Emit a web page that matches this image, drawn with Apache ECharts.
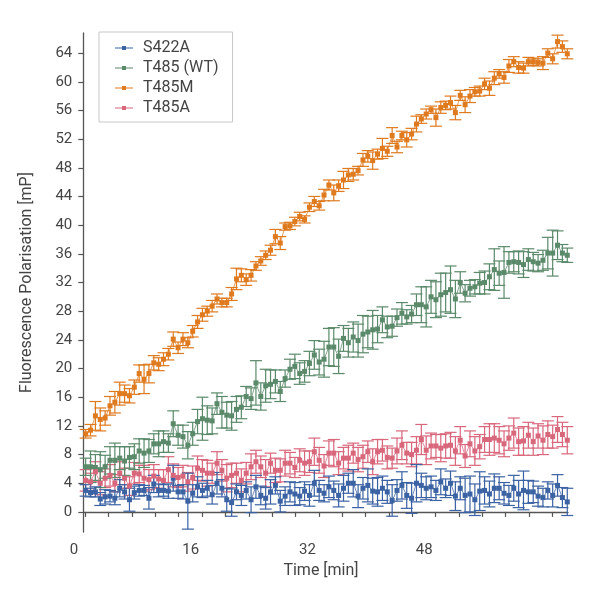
<!DOCTYPE html>
<html><head><meta charset="utf-8">
<script src="https://cdn.jsdelivr.net/npm/echarts@6/dist/echarts.min.js"></script>
<style>html,body{margin:0;padding:0;background:#fff}#c{width:600px;height:612px}</style>
</head><body><div id="c"></div>
<script>
const seriesNames = ['S422A', 'T485 (WT)', 'T485M', 'T485A'];
const seriesColors = ['#3b62a3', '#5a8a6a', '#df7a1f', '#d9677c'];
const xTickLabels = [0, 16, 32, 48];
const yTickLabels = [0, 4, 8, 12, 16, 20, 24, 28, 32, 36, 40, 44, 48, 52, 56, 60, 64];
const xMinorTicks = [1.55, 4.75, 7.95, 11.15, 14.35, 17.55, 20.75, 23.95, 27.15, 30.35, 33.55, 36.75, 39.95, 43.15, 46.35, 49.55, 52.75, 55.95, 59.15, 62.35, 65.55];
const firstSampleMin = 1.6;
const sampleStepMin = 2 / 3; // 40 s between readings
const nSamples = 100;

const s422aValues = [3.0,2.7,2.8,1.8,2.1,2.2,1.9,3.3,2.8,1.7,2.7,3.0,3.0,1.9,3.9,3.0,3.0,2.9,4.7,2.8,2.8,1.5,2.6,3.5,3.0,3.3,2.4,4.0,3.3,1.7,1.3,2.8,2.3,3.0,1.7,3.5,2.3,1.9,2.8,3.7,1.5,2.2,2.8,2.5,2.2,2.9,2.3,4.0,
3.0,2.6,3.5,3.0,2.3,3.3,4.0,4.0,2.2,3.3,3.7,2.9,2.8,3.3,2.8,1.6,3.0,3.7,2.3,1.9,4.0,3.7,3.3,3.5,3.0,4.2,3.3,4.0,2.2,3.3,2.3,2.5,1.7,2.9,3.0,2.5,3.3,3.3,2.6,2.3,3.3,2.5,3.0,2.8,2.8,2.2,2.0,3.0,2.3,3.7,2.0,1.4];
const s422aErrors = [0.8,0.6,0.7,0.9,1.0,0.8,0.9,1.2,1.0,1.6,0.9,0.8,0.7,1.5,1.2,0.9,0.8,1.0,1.8,0.9,1.0,3.9,1.2,1.4,1.0,1.1,1.3,1.5,1.2,1.6,1.9,1.1,1.4,1.2,1.8,1.6,1.3,1.5,1.7,1.2,1.5,1.3,1.4,1.6,1.2,1.3,1.5,1.8,1.4,1.2,
1.5,1.3,1.6,1.8,1.4,1.9,1.6,1.5,2.3,1.8,2.0,1.7,1.6,2.2,1.5,1.9,1.8,2.1,2.6,1.7,1.6,1.5,1.4,1.8,1.3,1.7,2.0,1.6,2.4,2.5,2.2,2.7,1.9,1.8,2.0,1.6,1.5,1.4,1.8,1.9,2.7,1.6,1.5,1.4,1.3,1.2,1.6,1.5,1.4,1.9];

const t485wtValues = [6.3,6.3,6.2,5.9,6.3,7.2,7.2,7.5,7.1,7.6,7.7,8.5,8.2,8.5,9.5,9.5,9.8,9.6,12.3,10.7,10.5,9.3,10.9,12.6,13.0,12.8,12.7,15.1,13.9,13.5,13.4,14.3,14.6,16.1,15.8,18.0,16.1,17.6,17.8,18.2,16.8,18.6,19.9,20.3,19.3,19.6,20.7,21.9,20.9,21.3,
23.0,23.0,21.7,24.2,23.6,24.4,23.9,24.8,25.1,25.4,25.5,26.8,25.8,25.9,27.1,27.7,27.2,27.6,28.9,28.9,28.6,30.0,29.6,30.3,30.6,31.0,29.7,32.0,30.5,31.2,31.4,31.9,32.0,32.8,33.8,33.3,33.4,34.8,34.9,34.8,34.5,35.2,34.9,34.7,35.1,36.1,36.1,37.2,36.1,35.8];
const t485wtErrors = [1.2,2.2,1.8,2.5,1.6,1.9,2.4,1.6,2.0,1.5,1.8,1.7,2.0,1.6,1.4,1.8,1.5,1.3,1.8,1.4,1.6,1.9,1.6,1.7,3.0,2.0,1.8,1.5,2.2,1.8,2.0,1.8,1.6,1.4,1.5,3.1,1.9,2.3,2.0,1.6,1.4,1.2,1.4,1.7,1.5,1.5,1.7,2.0,1.8,2.5,
2.6,2.7,2.4,1.8,2.0,2.1,2.3,2.6,2.2,2.7,1.9,1.8,1.5,1.4,1.2,1.5,1.0,1.2,1.5,2.5,2.8,2.3,2.5,3.0,2.7,3.3,2.6,1.5,1.2,1.1,1.0,1.5,1.6,1.8,2.9,1.7,3.6,1.5,1.4,1.6,1.8,1.5,1.3,1.2,1.4,2.2,3.2,2.0,1.2,1.0];

const t485mValues = [10.9,11.4,13.4,12.9,13.1,14.8,15.3,16.5,16.5,16.2,17.4,19.3,18.5,19.3,20.8,20.6,21.3,22.0,24.1,22.9,24.1,23.6,25.2,26.5,27.5,28.0,28.7,29.7,29.2,29.2,30.4,32.5,33.0,32.4,33.0,34.3,35.0,35.8,36.5,38.4,37.5,39.8,39.9,40.5,41.2,40.8,42.5,43.3,42.7,
44.2,45.6,44.5,45.5,46.3,47.0,47.1,47.6,49.1,49.6,49.0,49.9,50.7,50.3,52.5,50.9,52.5,51.9,52.7,54.1,54.8,55.5,56.1,55.0,56.4,56.7,57.1,55.7,58.1,56.8,58.0,58.6,58.7,59.7,59.1,60.5,61.1,60.6,62.2,62.8,62.0,61.9,62.8,62.8,62.7,62.6,64.0,63.2,65.6,64.9,63.9];
const t485mErrors = [0.6,0.8,2.0,1.6,1.0,1.3,1.5,1.6,1.2,1.0,1.0,1.2,2.0,1.3,1.0,0.9,0.9,0.8,1.0,0.8,0.9,0.7,0.8,0.9,0.9,0.7,0.8,0.7,0.6,0.6,0.9,1.5,0.9,0.8,0.8,0.6,0.6,0.6,0.7,1.0,0.9,0.5,0.5,0.6,0.6,0.5,0.6,0.7,0.6,
0.8,0.7,1.1,0.8,1.2,0.9,0.8,0.6,0.9,0.8,1.2,0.7,1.4,0.7,1.1,0.8,0.6,1.0,0.8,1.1,0.6,0.7,0.5,1.2,0.8,0.6,0.9,1.0,0.7,1.1,0.9,0.6,0.7,0.8,1.0,0.9,0.6,0.8,0.9,0.7,0.8,0.7,0.6,0.5,0.5,0.9,0.6,0.7,0.9,0.8,0.7];

const t485aValues = [4.4,4.2,5.6,4.0,4.7,5.1,4.0,5.4,4.7,3.6,5.4,5.3,4.7,4.5,5.0,4.6,4.4,5.9,5.1,4.8,5.0,4.2,4.8,6.1,5.8,5.4,5.4,6.8,5.8,4.7,5.1,5.4,4.4,5.4,6.3,7.0,6.3,5.4,6.8,5.8,5.8,6.8,6.8,6.2,7.2,6.8,7.0,8.4,
7.2,6.4,8.2,8.2,6.8,7.5,7.5,8.2,7.3,7.7,8.4,7.0,8.4,8.6,7.6,7.5,8.5,9.3,8.2,8.0,8.6,10.1,8.6,9.2,9.2,8.9,9.2,9.3,8.5,10.0,7.8,9.5,8.5,9.1,10.1,10.1,10.3,10.0,9.5,10.3,11.0,9.8,9.9,10.7,9.8,10.6,10.0,10.8,10.5,11.5,10.8,10.0];
const t485aErrors = [1.5,1.2,1.4,1.6,1.3,1.5,1.2,1.6,1.4,1.3,1.5,1.2,1.8,1.4,1.6,1.3,1.5,1.8,1.6,1.4,1.5,1.3,1.6,1.7,1.5,1.8,1.4,1.6,1.5,1.9,1.7,1.4,1.6,1.5,1.8,1.6,1.5,1.9,1.4,1.7,1.6,1.8,1.5,1.4,1.6,1.7,1.5,1.9,1.8,1.6,
1.7,1.9,1.6,1.5,1.8,1.4,1.7,1.6,1.5,1.8,1.7,1.5,1.6,1.4,1.8,2.0,1.5,1.7,1.9,2.1,2.0,1.8,1.6,1.9,1.7,1.8,2.0,1.9,1.6,1.8,2.0,1.7,1.8,2.2,2.0,1.9,1.8,1.7,2.1,1.9,2.0,1.8,1.9,1.7,2.0,1.9,1.6,1.8,1.7,1.9];

const allValues = [s422aValues, t485wtValues, t485mValues, t485aValues];
const allErrors = [s422aErrors, t485wtErrors, t485mErrors, t485aErrors];

const times = [];
for (let i = 0; i < nSamples; i++) times.push(firstSampleMin + i * sampleStepMin);

const FONT = 'Roboto, "Noto Sans", sans-serif';
const TXT = '#444';
const AX = '#555';
const xMax = 67.7, xStartB = 1.275, yMin = -2.8, yMax = 66.8;
const legendIcon = 'path://M0,1.5h18v1h-18z M7,0h4v4h-4z';

function errRender(color) {
  return function (params, api) {
    const x = api.value(0), y = api.value(1), e = api.value(2);
    const top = api.coord([x, y + e]);
    const bot = api.coord([x, y - e]);
    const hw = 6;
    const st = { stroke: color, lineWidth: 1.2 };
    return {
      type: 'group',
      children: [
        { type: 'line', shape: { x1: top[0], y1: top[1], x2: bot[0], y2: bot[1] }, style: st },
        { type: 'line', shape: { x1: top[0] - hw, y1: top[1], x2: top[0] + hw, y2: top[1] }, style: st },
        { type: 'line', shape: { x1: bot[0] - hw, y1: bot[1], x2: bot[0] + hw, y2: bot[1] }, style: st }
      ]
    };
  };
}

const series = [];
const drawOrder = [3, 2, 1, 0];
drawOrder.forEach(function (k) {
  series.push({
    name: seriesNames[k] + ' err',
    type: 'custom',
    xAxisIndex: 1, yAxisIndex: 1,
    renderItem: errRender(seriesColors[k]),
    encode: { x: 0, y: 1 },
    data: times.map((t, i) => [t, allValues[k][i], allErrors[k][i]]),
    z: 2,
    silent: true
  });
});
[0, 1, 2, 3].forEach(function (k) {
  series.push({
    name: seriesNames[k],
    type: 'line',
    xAxisIndex: 1, yAxisIndex: 1,
    data: times.map((t, i) => [t, allValues[k][i]]),
    symbol: 'rect',
    symbolSize: 5,
    showSymbol: true,
    clip: false,
    itemStyle: { color: seriesColors[k] },
    lineStyle: { color: seriesColors[k], width: 1, opacity: 0.75 },
    z: 3 + (3 - drawOrder.indexOf(k))
  });
});

const chart = echarts.init(document.getElementById('c'), null, { renderer: 'canvas' });
chart.setOption({
  animation: false,
  backgroundColor: '#fff',
  textStyle: { fontFamily: FONT },
  grid: [
    { left: 74, right: 32, top: 33, bottom: 80, outerBoundsMode: 'none' },
    { left: 83.3, right: 32, top: 33, bottom: 80, outerBoundsMode: 'none' }
  ],
  legend: {
    orient: 'vertical',
    left: 99, top: 32,
    padding: [8, 14, 6, 16],
    itemWidth: 18, itemHeight: 4, itemGap: 4,
    borderColor: '#c8c8c8', borderWidth: 1,
    backgroundColor: '#fff',
    textStyle: { fontSize: 16, lineHeight: 16, color: TXT, fontFamily: FONT, padding: [0, 0, 0, 5] },
    data: seriesNames.map((n) => ({ name: n, icon: legendIcon }))
  },
  xAxis: [
    {
      gridIndex: 0, type: 'value', min: 0, max: xMax,
      axisLine: { show: false }, axisTick: { show: false }, splitLine: { show: false },
      axisLabel: { customValues: xTickLabels, fontSize: 15, color: TXT, margin: 11, fontFamily: FONT },
      name: 'Time [min]', nameLocation: 'middle', nameGap: 30,
      nameTextStyle: { fontSize: 16, color: TXT, fontFamily: FONT }
    },
    {
      gridIndex: 1, type: 'value', min: xStartB, max: xMax,
      axisLine: { show: true, lineStyle: { color: AX, width: 1.3 } },
      axisTick: { show: true, customValues: xMinorTicks, length: 5, lineStyle: { color: AX, width: 1.2 } },
      axisLabel: { show: false }, splitLine: { show: false }
    }
  ],
  yAxis: [
    { gridIndex: 0, type: 'value', min: yMin, max: yMax, show: false },
    {
      gridIndex: 1, type: 'value', min: yMin, max: yMax,
      axisLine: { show: true, lineStyle: { color: AX, width: 1.3 } },
      axisTick: { show: true, customValues: yTickLabels, length: 5, lineStyle: { color: AX, width: 1.2 } },
      axisLabel: { customValues: yTickLabels, fontSize: 15, color: TXT, margin: 11, fontFamily: FONT },
      splitLine: { show: false },
      name: 'Fluorescence Polarisation [mP]', nameLocation: 'middle', nameGap: 48, nameRotate: 90,
      nameTextStyle: { fontSize: 16, color: TXT, fontFamily: FONT }
    }
  ],
  series: series
});
</script>
</body></html>
